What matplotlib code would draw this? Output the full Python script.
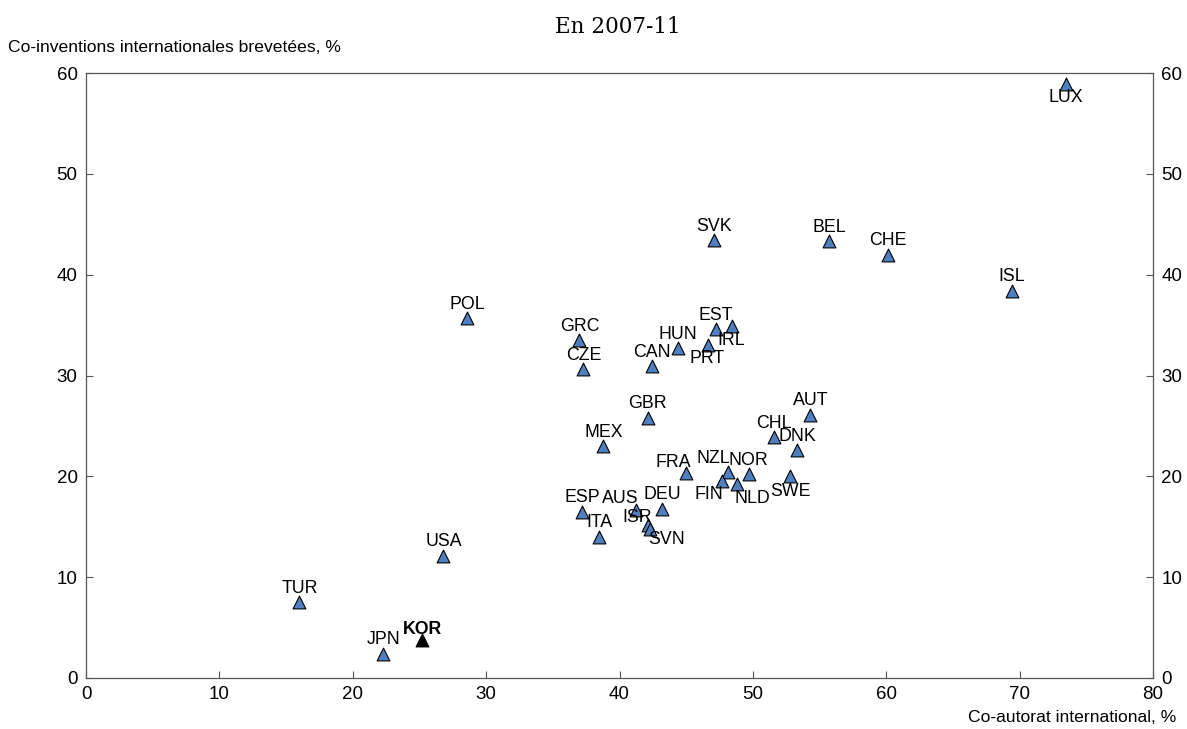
import matplotlib
matplotlib.use("Agg")
import matplotlib.pyplot as plt

countries = ["LUX", "SVK", "BEL", "CHE", "ISL", "POL", "GRC", "CZE", "EST", "IRL",
             "HUN", "PRT", "CAN", "GBR", "MEX", "CHL", "AUT", "DNK", "FRA", "NZL",
             "NOR", "FIN", "NLD", "SWE", "ESP", "AUS", "DEU", "ISR", "SVN", "ITA",
             "USA", "TUR", "JPN", "KOR"]
coauthorship = [73.5, 47.1, 55.7, 60.1, 69.4, 28.6, 37.0, 37.3, 47.2, 48.4,
                44.4, 46.6, 42.4, 42.1, 38.8, 51.6, 54.3, 53.3, 45.0, 48.1,
                49.7, 47.7, 48.8, 52.8, 37.2, 41.2, 43.2, 42.1, 42.3, 38.5,
                26.8, 16.0, 22.3, 25.2]
coinventions = [58.9, 43.4, 43.3, 42.0, 38.4, 35.7, 33.5, 30.6, 34.6, 34.9,
                32.7, 33.0, 30.9, 25.8, 23.0, 23.9, 26.1, 22.6, 20.3, 20.4,
                20.2, 19.5, 19.2, 20.0, 16.5, 16.7, 16.8, 15.2, 14.8, 14.0,
                12.1, 7.5, 2.4, 3.8]
highlight = "KOR"

# label offsets in pixels (dx right, dy up)
label_offsets = {
    "LUX": (0, -13), "IRL": (0, -14), "PRT": (0, -13),
    "FRA": (-13, 11), "NZL": (-14, 14), "FIN": (-13, -13), "NLD": (16, -14),
    "SWE": (0, -15), "AUS": (-15, 11), "ISR": (-10, 7), "SVN": (16, -11),
    "KOR": (0, 10),
}
default_offset = (0, 14)

W, H = 1187, 729
fig = plt.figure(figsize=(W / 100, H / 100), dpi=100)
ax = fig.add_axes([86 / W, 1 - 678 / H, (1153 - 86) / W, (678 - 73) / H])

blue = "#4F7FBF"
for c, x, y in zip(countries, coauthorship, coinventions):
    fc = "black" if c == highlight else blue
    ax.scatter([x], [y], marker="^", s=85, facecolor=fc, edgecolor="black",
               linewidth=0.8, zorder=3)
    dx, dy = label_offsets.get(c, default_offset)
    ax.annotate(c, (x, y), xytext=(dx * 0.72, dy * 0.72), textcoords="offset points",
                ha="center", va="center", fontsize=12.8,
                fontweight="bold" if c == highlight else "normal",
                family="Liberation Sans", color="black", zorder=4)

ax.set_xlim(0, 80)
ax.set_ylim(0, 60)
ax.set_xticks(range(0, 81, 10))
ax.set_yticks(range(0, 61, 10))
ax.tick_params(direction="in", length=5, width=0.8, color="#555555",
               labelsize=13.5, right=True, labelright=True, pad=6)
for lab in ax.get_xticklabels() + ax.get_yticklabels():
    lab.set_family("Liberation Sans")
for s in ax.spines.values():
    s.set_color("#555555")
    s.set_linewidth(0.9)

fig.text(618 / W, 1 - 27 / H, "En 2007-11", ha="center", va="center",
         fontsize=15.5, family="DejaVu Serif")
fig.text(8 / W, 1 - 48 / H, "Co-inventions internationales brevetées, %",
         ha="left", va="center", fontsize=12.6, family="Liberation Sans")
fig.text(1176 / W, 1 - 718 / H, "Co-autorat international, %",
         ha="right", va="center", fontsize=12.6, family="Liberation Sans")

fig.savefig("out.png", dpi=100)
